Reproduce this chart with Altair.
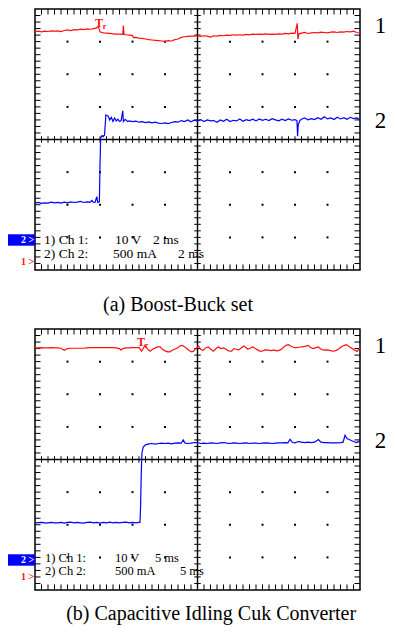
import altair as alt
import pandas as pd

# ---------------- Panel (a): Boost-Buck set (x in divisions 0-10, y in divisions 0-8)
A_RED_X = [0.0, 0.1, 0.2, 0.3, 0.4, 0.5, 0.6, 0.7, 0.8, 0.9, 1.0, 1.1, 1.2, 1.3, 1.4, 1.5, 1.6, 1.7, 1.8, 1.9,
           1.95, 2.0, 2.1, 2.2, 2.3, 2.4, 2.5, 2.6, 2.7, 2.72, 2.74, 2.8, 2.9, 3.0, 3.03, 3.1, 3.2, 3.3, 3.4, 3.5,
           3.6, 3.7, 3.8, 3.9, 4.0, 4.1, 4.2, 4.3, 4.4, 4.5, 4.6, 4.7, 4.8, 4.9, 5.0, 5.1, 5.2, 5.3, 5.4, 5.5,
           5.6, 5.7, 5.8, 5.9, 6.0, 6.1, 6.2, 6.3, 6.4, 6.5, 6.6, 6.7, 6.8, 6.9, 7.0, 7.1, 7.2, 7.3, 7.4, 7.5,
           7.6, 7.7, 7.8, 7.9, 8.0, 8.07, 8.09, 8.12, 8.2, 8.3, 8.4, 8.5, 8.6, 8.7, 8.8, 8.9, 9.0, 9.1, 9.2, 9.3,
           9.4, 9.5, 9.6, 9.7, 9.8, 9.9, 10.0]
A_RED_Y = [7.31, 7.32, 7.30, 7.32, 7.31, 7.33, 7.32, 7.33, 7.31, 7.34, 7.36, 7.34, 7.37, 7.36, 7.38, 7.37, 7.39, 7.38, 7.40, 7.42,
           7.46, 7.30, 7.27, 7.26, 7.25, 7.24, 7.23, 7.23, 7.22, 7.49, 7.22, 7.21, 7.20, 7.19, 7.12, 7.13, 7.11, 7.10, 7.08, 7.06,
           7.05, 7.04, 7.03, 7.02, 7.01, 7.03, 7.02, 7.06, 7.08, 7.13, 7.15, 7.16, 7.17, 7.17, 7.18, 7.16, 7.18, 7.17, 7.14, 7.18,
           7.17, 7.19, 7.18, 7.20, 7.19, 7.21, 7.20, 7.21, 7.20, 7.22, 7.21, 7.23, 7.22, 7.23, 7.22, 7.24, 7.22, 7.23, 7.22, 7.24,
           7.23, 7.25, 7.24, 7.26, 7.25, 7.56, 7.08, 7.24, 7.26, 7.28, 7.25, 7.27, 7.28, 7.27, 7.29, 7.28, 7.27, 7.29, 7.30, 7.28,
           7.30, 7.29, 7.31, 7.30, 7.32, 7.28, 7.27]

A_BLUE_X = [0.0, 0.1, 0.2, 0.3, 0.4, 0.5, 0.6, 0.7, 0.8, 0.9, 1.0, 1.1, 1.2, 1.3, 1.4, 1.5, 1.6, 1.7, 1.75, 1.8,
            1.85, 1.9, 1.93, 1.98, 2.0, 2.02, 2.06, 2.1, 2.14, 2.18, 2.25, 2.3, 2.35, 2.4, 2.45, 2.5, 2.55, 2.6, 2.65, 2.7,
            2.72, 2.78, 2.85, 2.9, 3.0, 3.1, 3.2, 3.3, 3.4, 3.5, 3.6, 3.7, 3.8, 3.9, 4.0, 4.1, 4.2, 4.3, 4.4, 4.5,
            4.6, 4.7, 4.8, 4.9, 5.0, 5.1, 5.2, 5.3, 5.4, 5.5, 5.6, 5.7, 5.8, 5.9, 6.0, 6.1, 6.2, 6.3, 6.4, 6.5,
            6.6, 6.7, 6.8, 6.9, 7.0, 7.1, 7.2, 7.3, 7.4, 7.5, 7.6, 7.7, 7.8, 7.9, 8.0, 8.06, 8.08, 8.1, 8.15, 8.2,
            8.3, 8.4, 8.5, 8.6, 8.7, 8.8, 8.9, 9.0, 9.1, 9.2, 9.3, 9.4, 9.5, 9.6, 9.7, 9.8, 9.9, 10.0]
A_BLUE_Y = [2.05, 2.07, 2.04, 2.06, 2.05, 2.08, 2.06, 2.07, 2.05, 2.08, 2.06, 2.09, 2.07, 2.08, 2.10, 2.07, 2.09, 2.08, 2.13, 2.07,
            2.08, 2.25, 2.07, 2.09, 3.20, 4.05, 4.12, 4.09, 4.14, 4.75, 4.72, 4.60, 4.68, 4.55, 4.66, 4.57, 4.62, 4.55, 4.58, 4.88,
            4.55, 4.62, 4.55, 4.57, 4.55, 4.56, 4.53, 4.55, 4.52, 4.54, 4.51, 4.53, 4.50, 4.49, 4.51, 4.49, 4.52, 4.55, 4.53, 4.58,
            4.55, 4.60, 4.54, 4.59, 4.56, 4.61, 4.55, 4.60, 4.57, 4.58, 4.53, 4.60, 4.56, 4.62, 4.55, 4.59, 4.57, 4.63, 4.56, 4.61,
            4.58, 4.62, 4.57, 4.63, 4.59, 4.62, 4.58, 4.64, 4.60, 4.57, 4.62, 4.58, 4.63, 4.59, 4.61, 4.58, 4.10, 4.45, 4.58, 4.62,
            4.66, 4.60, 4.64, 4.61, 4.67, 4.62, 4.70, 4.63, 4.66, 4.61, 4.68, 4.63, 4.67, 4.62, 4.68, 4.64, 4.66, 4.61]

# ---------------- Panel (b): Capacitive Idling Cuk Converter
B_RED_X = [0.0, 0.1, 0.2, 0.3, 0.4, 0.5, 0.6, 0.7, 0.8, 0.9, 1.0, 1.1, 1.2, 1.3, 1.4, 1.5, 1.6, 1.7, 1.8, 1.9,
           2.0, 2.1, 2.2, 2.3, 2.4, 2.5, 2.6, 2.65, 2.7, 2.8, 2.9, 3.0, 3.1, 3.2, 3.28, 3.33, 3.38, 3.45, 3.54, 3.62,
           3.7, 3.78, 3.85, 3.92, 4.0, 4.08, 4.15, 4.22, 4.3, 4.38, 4.46, 4.53, 4.6, 4.67, 4.74, 4.82, 4.88, 4.95, 5.03, 5.1,
           5.17, 5.25, 5.33, 5.41, 5.49, 5.57, 5.64, 5.72, 5.8, 5.88, 5.95, 6.05, 6.12, 6.2, 6.27, 6.34, 6.42, 6.48, 6.55, 6.62,
           6.7, 6.78, 6.85, 6.92, 6.98, 7.08, 7.18, 7.26, 7.34, 7.45, 7.55, 7.65, 7.72, 7.8, 7.88, 7.95, 8.02, 8.1, 8.2, 8.3,
           8.41, 8.48, 8.56, 8.64, 8.72, 8.8, 8.88, 8.96, 9.04, 9.12, 9.2, 9.3, 9.38, 9.45, 9.52, 9.59, 9.66, 9.73, 9.8, 9.9,
           9.95, 10.0]
B_RED_Y = [7.42, 7.42, 7.43, 7.42, 7.42, 7.43, 7.42, 7.42, 7.41, 7.35, 7.40, 7.41, 7.41, 7.41, 7.41, 7.41, 7.42, 7.43, 7.43, 7.43,
           7.43, 7.43, 7.43, 7.43, 7.43, 7.42, 7.40, 7.35, 7.40, 7.42, 7.42, 7.43, 7.43, 7.43, 7.32, 7.40, 7.50, 7.40, 7.32, 7.38,
           7.42, 7.45, 7.45, 7.38, 7.33, 7.30, 7.30, 7.35, 7.38, 7.42, 7.48, 7.50, 7.46, 7.40, 7.34, 7.30, 7.32, 7.40, 7.48, 7.38,
           7.34, 7.42, 7.45, 7.38, 7.32, 7.40, 7.45, 7.40, 7.42, 7.38, 7.33, 7.32, 7.40, 7.38, 7.36, 7.42, 7.48, 7.44, 7.38, 7.41,
           7.45, 7.40, 7.36, 7.32, 7.32, 7.36, 7.35, 7.34, 7.35, 7.33, 7.36, 7.44, 7.50, 7.52, 7.47, 7.44, 7.42, 7.44, 7.45, 7.47,
           7.50, 7.43, 7.40, 7.43, 7.45, 7.38, 7.35, 7.36, 7.35, 7.33, 7.32, 7.36, 7.42, 7.47, 7.50, 7.52, 7.46, 7.42, 7.38, 7.31,
           7.36, 7.43]

B_BLUE_X = [0.0, 0.2, 0.35, 0.5, 0.6, 0.7, 0.8, 0.9, 1.0, 1.1, 1.2, 1.3, 1.4, 1.5, 1.6, 1.7, 1.8, 1.9, 2.0, 2.1,
            2.2, 2.3, 2.4, 2.5, 2.6, 2.7, 2.8, 2.9, 3.0, 3.1, 3.2, 3.23, 3.25, 3.27, 3.29, 3.33, 3.4, 3.5, 3.6, 3.7,
            3.8, 3.9, 4.0, 4.1, 4.2, 4.3, 4.4, 4.5, 4.56, 4.62, 4.7, 4.8, 4.9, 5.0, 5.1, 5.2, 5.3, 5.4, 5.5, 5.6,
            5.7, 5.8, 5.9, 6.0, 6.1, 6.2, 6.3, 6.4, 6.5, 6.6, 6.7, 6.8, 6.9, 7.0, 7.1, 7.2, 7.3, 7.4, 7.5, 7.6,
            7.7, 7.78, 7.85, 7.92, 8.0, 8.1, 8.2, 8.3, 8.4, 8.5, 8.6, 8.72, 8.8, 8.9, 9.0, 9.1, 9.2, 9.3, 9.4, 9.48,
            9.54, 9.6, 9.7, 9.8, 9.9, 10.0]
B_BLUE_Y = [2.06, 2.07, 2.05, 2.07, 2.06, 2.06, 2.07, 2.05, 2.07, 2.08, 2.06, 2.07, 2.06, 2.05, 2.07, 2.08, 2.06, 2.07, 2.05, 2.07,
            2.06, 2.08, 2.06, 2.07, 2.06, 2.07, 2.08, 2.06, 2.07, 2.06, 2.07, 2.07, 2.60, 3.60, 4.20, 4.38, 4.45, 4.48, 4.49, 4.47,
            4.49, 4.50, 4.49, 4.50, 4.48, 4.50, 4.51, 4.50, 4.60, 4.50, 4.49, 4.50, 4.52, 4.52, 4.49, 4.50, 4.49, 4.51, 4.50, 4.49,
            4.51, 4.52, 4.50, 4.49, 4.51, 4.50, 4.49, 4.50, 4.51, 4.49, 4.50, 4.50, 4.49, 4.50, 4.51, 4.50, 4.49, 4.50, 4.51, 4.51,
            4.52, 4.51, 4.62, 4.52, 4.51, 4.55, 4.53, 4.52, 4.53, 4.52, 4.53, 4.61, 4.53, 4.52, 4.52, 4.51, 4.51, 4.51, 4.52, 4.53,
            4.74, 4.64, 4.60, 4.55, 4.52, 4.57]

CAPTIONS = ["(a) Boost-Buck set", "(b) Capacitive Idling Cuk Converter"]
SCOPE_LINES = [["1) Ch 1:", "10 V", "2 ms", "2) Ch 2:", "500 mA", "2 ms"],
               ["1) Ch 1:", "10 V", "5 ms", "2) Ch 2:", "500 mA", "5 ms"]]

RED = "#ff1010"
BLUE = "#0000ff"
SERIF = "Liberation Serif, Times New Roman, serif"

XS = alt.Scale(domain=[0, 10], range=[27, 352], nice=False, zero=False)


def one(**kw):
    return pd.DataFrame([kw])


def panel(rx, ry, bx, by, yrange, caption, caption_x, caption_y, scope, scope_pos, scope_size, t_pos, one_y):
    YS = alt.Scale(domain=[0, 8], range=yrange, nice=False, zero=False)
    X = lambda f: alt.X(f, scale=XS, axis=None)
    Y = lambda f: alt.Y(f, scale=YS, axis=None)

    # minor ticks
    ticks = []
    for k in range(1, 50):
        t = k * 0.2
        ticks.append(dict(x=t, x2=t, y=8, y2=8 - 0.17))
        ticks.append(dict(x=t, x2=t, y=0, y2=0.17))
        ticks.append(dict(x=t, x2=t, y=3.9, y2=4.1))
    for k in range(1, 40):
        t = k * 0.2
        ticks.append(dict(x=0, x2=0.17, y=t, y2=t))
        ticks.append(dict(x=10, x2=9.83, y=t, y2=t))
        ticks.append(dict(x=4.9, x2=5.1, y=t, y2=t))
    ticks_df = pd.DataFrame(ticks)
    tick_layer = alt.Chart(ticks_df).mark_rule(color="black", strokeWidth=1).encode(
        x=X("x:Q"), x2="x2:Q", y=Y("y:Q"), y2="y2:Q")

    dots = pd.DataFrame([dict(x=i, y=j) for i in range(1, 10) if i != 5 for j in range(1, 8) if j != 4])
    dot_layer = alt.Chart(dots).mark_square(size=4, color="black", opacity=1).encode(x=X("x:Q"), y=Y("y:Q"))

    center = pd.DataFrame([dict(x=5, x2=5, y=0, y2=8), dict(x=0, x2=10, y=4, y2=4)])
    center_layer = alt.Chart(center).mark_rule(color="black", strokeWidth=1.4).encode(
        x=X("x:Q"), x2="x2:Q", y=Y("y:Q"), y2="y2:Q")

    border_layer = alt.Chart(one(x=0, x2=10, y=0, y2=8)).mark_rect(
        filled=False, stroke="black", strokeWidth=1.5).encode(x=X("x:Q"), x2="x2:Q", y=Y("y:Q"), y2="y2:Q")

    red_df = pd.DataFrame({"x": rx, "y": ry, "i": range(len(rx))})
    blue_df = pd.DataFrame({"x": bx, "y": by, "i": range(len(bx))})
    red_layer = alt.Chart(red_df).mark_line(color=RED, strokeWidth=1.2).encode(
        x=X("x:Q"), y=Y("y:Q"), order="i:Q")
    blue_layer = alt.Chart(blue_df).mark_line(color=BLUE, strokeWidth=1.2).encode(
        x=X("x:Q"), y=Y("y:Q"), order="i:Q")

    def txt(x, y, t, **mk):
        return alt.Chart(one(x=x, y=y, t=t)).mark_text(**mk).encode(x=X("x:Q"), y=Y("y:Q"), text="t:N")

    layers = [tick_layer, center_layer, border_layer, dot_layer, red_layer, blue_layer]

    # scope text
    for t, (px, py) in zip(scope, scope_pos):
        layers.append(txt(px, py, t, font=SERIF, fontSize=scope_size, align="left", baseline="middle", color="black"))

    # channel markers at left
    marker = alt.Chart(one(x=-0.9, x2=0, y=0.745, y2=1.095)).mark_rect(color=BLUE).encode(
        x=X("x:Q"), x2="x2:Q", y=Y("y:Q"), y2="y2:Q")
    layers.append(marker)
    layers.append(txt(-0.23, 0.92, "2 >", font=SERIF, fontSize=10, fontWeight="bold", color="white",
                      align="center", baseline="middle"))
    layers.append(txt(-0.23, one_y, "1 >", font=SERIF, fontSize=10, fontWeight="bold", color=RED,
                      align="center", baseline="middle"))

    # trigger marker
    layers.append(txt(t_pos[0], t_pos[1], "T", font=SERIF, fontSize=12, fontWeight="bold", color=RED,
                      align="center", baseline="middle"))
    layers.append(txt(t_pos[0] + 0.17, t_pos[1] - 0.12, "r", font=SERIF, fontSize=8, fontWeight="bold", color=RED,
                      align="center", baseline="middle"))

    # channel labels on the right
    layers.append(txt(10.63, 7.47, "1", font=SERIF, fontSize=23, color="black", align="center", baseline="middle"))
    layers.append(txt(10.63, 4.57, "2", font=SERIF, fontSize=23, color="black", align="center", baseline="middle"))

    # caption
    layers.append(txt(caption_x, caption_y, caption, font=SERIF, fontSize=20, color="black",
                      align="center", baseline="middle"))
    return alt.layer(*layers)


pa = panel(A_RED_X, A_RED_Y, A_BLUE_X, A_BLUE_Y, [262, 1], CAPTIONS[0], 4.40, -1.07, SCOPE_LINES[0],
           [(0.28, 0.93), (2.46, 0.93), (3.63, 0.93), (0.28, 0.49), (2.40, 0.49), (4.40, 0.49)], 13.5,
           (1.97, 7.58), 0.25)
pb = panel(B_RED_X, B_RED_Y, B_BLUE_X, B_BLUE_Y, [582, 321], CAPTIONS[1], 5.42, -0.74, SCOPE_LINES[1],
           [(0.31, 0.97), (2.46, 0.97), (3.69, 0.97), (0.31, 0.57), (2.46, 0.57), (4.46, 0.57)], 12.5,
           (3.26, 7.60), 0.39)

chart = alt.layer(pa, pb).resolve_scale(y="independent").properties(
    width=379, height=617, autosize=alt.AutoSizeParams(type="none"), padding=0, background="white"
).configure_view(stroke=None)

chart.save("out.html", embed_options={"renderer": "svg", "actions": False})
